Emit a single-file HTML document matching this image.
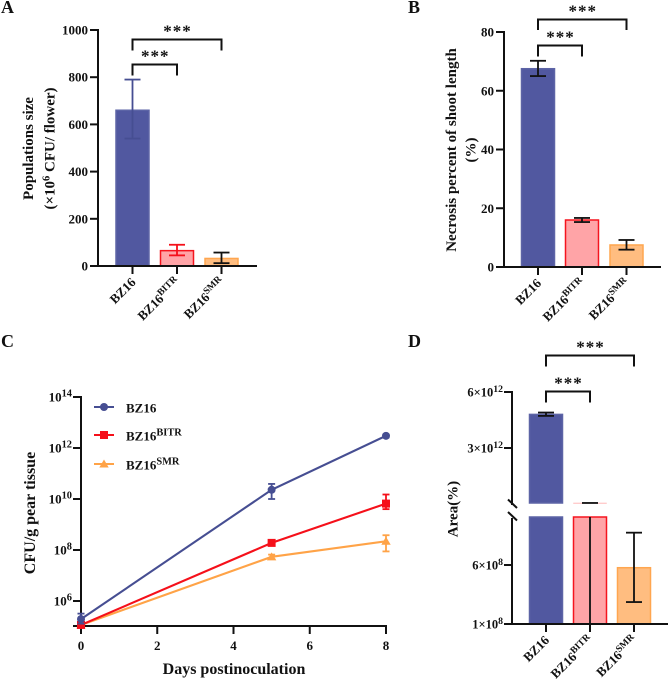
<!DOCTYPE html>
<html lang="en">
<head>
<meta charset="utf-8">
<title>Four-panel bacterial virulence chart</title>
<style>
html,body{margin:0;padding:0;background:#fff;}
svg{display:block;}
text{font-family:"Liberation Serif",serif;font-weight:bold;fill:#111;}
</style>
</head>
<body>
<svg id="figure" width="669" height="680" viewBox="0 0 669 680" xmlns="http://www.w3.org/2000/svg">
  <text x="1" y="13" font-size="18">A</text>
  <text x="408" y="13" font-size="18">B</text>
  <text x="1" y="347" font-size="18">C</text>
  <text x="408" y="347" font-size="18">D</text>

  <g font-size="15">
    <text transform="translate(33,148.5) rotate(-90)" text-anchor="middle">Populations size</text>
    <text transform="translate(54.5,148.5) rotate(-90)" text-anchor="middle">(×10<tspan font-size="10.5" dy="-5">6</tspan><tspan dy="5"> CFU/ flower)</tspan></text>
  </g>
  <g font-size="15">
    <text transform="translate(456,150) rotate(-90)" text-anchor="middle">Necrosis percent of shoot length</text>
    <text transform="translate(475.5,150) rotate(-90)" text-anchor="middle">(%)</text>
  </g>
  <text transform="translate(35,513) rotate(-90)" text-anchor="middle" font-size="16">CFU/g pear tissue</text>
  <text x="234" y="674" text-anchor="middle" font-size="16">Days postinoculation</text>
  <text transform="translate(457.5,509) rotate(-90)" text-anchor="middle" font-size="15">Area(%)</text>
</svg>

<script>
// Shared categories
const barCategories = ['BZ16', 'BZ16|BITR', 'BZ16|SMR'];

// Panel A
const aValues = [660, 65, 32];
const aLower = [540, 45, 12];
const aUpper = [790, 90, 57];
const aTicks = [0, 200, 400, 600, 800, 1000];

// Panel B
const bValues = [67.5, 16, 7.5];
const bLower = [65, 15.3, 5.9];
const bUpper = [70.2, 16.7, 9.2];
const bTicks = [0, 20, 40, 60, 80];

// Panel C
const cDays = [0, 5, 8];
const cSeriesNames = ['BZ16', 'BZ16|BITR', 'BZ16|SMR'];
const cBZ16 = [1.95e5, 2.3e10, 3e12];
const cBZ16Lower = [1.3e5, 1e10, 2.6e12];
const cBZ16Upper = [3.2e5, 3.9e10, 3.4e12];
const cBITR = [1.15e5, 1.9e8, 6.6e9];
const cBITRLower = [1e5, 1.5e8, 4e9];
const cBITRUpper = [1.3e5, 2.4e8, 1.5e10];
const cSMR = [1.15e5, 5.4e7, 2.2e8];
const cSMRLower = [1e5, 4.4e7, 8.8e7];
const cSMRUpper = [1.3e5, 6.6e7, 3.8e8];
const cYTicks = [6, 8, 10, 12, 14];
const cXTicks = [0, 2, 4, 6, 8];

// Panel D
const dValues = [4.8e12, 5e10, 5.77e8];
const dLower = [4.72e12, 1e8, 2.86e8];
const dUpper = [4.9e12, 5.5e10, 8.74e8];
const dUpperTicks = ['6×10|12', '3×10|12'];
const dUpperTickValues = [6e12, 3e12];
const dLowerTicks = ['6×10|8', '1×10|8'];
const dLowerTickValues = [6e8, 1e8];

const svg = document.getElementById('figure');
const NS = 'http://www.w3.org/2000/svg';
const INK = '#111';
const fills = ['#5158a0', '#ffa4a7', '#ffbd80'];
const edges = ['#5d64a6', '#f5141e', '#ffa64f'];
const seriesColors = ['#464e92', '#f5101a', '#ffa347'];

function make(tag, attrs, parent) {
  const el = document.createElementNS(NS, tag);
  Object.keys(attrs).forEach(function (k) { el.setAttribute(k, attrs[k]); });
  (parent || svg).appendChild(el);
  return el;
}
function seg(parent, x1, y1, x2, y2, color, w) {
  return make('line', { x1: x1, y1: y1, x2: x2, y2: y2, stroke: color || INK, 'stroke-width': w || 2 }, parent);
}
function group(name) {
  const g = make('g', {});
  
  
  return g;
}
function supLabel(parent, x, y, anchor, size, label, transform, supScale) {
  const parts = label.split('|');
  const attrs = { x: x, y: y, 'text-anchor': anchor, 'font-size': size };
  if (transform) attrs.transform = transform;
  const t = make('text', attrs, parent);
  t.appendChild(document.createTextNode(parts[0]));
  if (parts[1]) {
    const s = make('tspan', { 'font-size': size * (supScale || 0.74), dy: -size * 0.38 }, t);
    s.textContent = parts[1];
  }
  return t;
}
function linear(d0, d1, r0, r1) {
  return function (v) { return r0 + (v - d0) / (d1 - d0) * (r1 - r0); };
}
function logScale(d0, d1, r0, r1) {
  return function (v) { return r0 + (Math.log10(v) - d0) / (d1 - d0) * (r1 - r0); };
}
function drawBar(g, cx, top, bottom, i) {
  const bar = make('rect', { x: cx - 16.5, y: top, width: 33, height: bottom - top, fill: fills[i], stroke: edges[i], 'stroke-width': 1.5 }, g);
  
  
}
function drawError(g, cx, yLow, yHigh, color, cap) {
  const e = make('g', {}, g);
  
  
  seg(e, cx, yLow, cx, yHigh, color, 1.8);
  seg(e, cx - cap, yHigh, cx + cap, yHigh, color, 1.8);
  seg(e, cx - cap, yLow, cx + cap, yLow, color, 1.8);
}
function drawBracket(name, x1, x2, yTop, yEnd, starY) {
  const g = group(name);
  const p = make('polyline', { points: x1 + ',' + yEnd + ' ' + x1 + ',' + yTop + ' ' + x2 + ',' + yTop + ' ' + x2 + ',' + yEnd, fill: 'none', stroke: INK, 'stroke-width': 2 }, g);
  
  
  const t = make('text', { x: (x1 + x2) / 2 + 0.5, y: starY, 'text-anchor': 'middle', 'font-size': 17, 'letter-spacing': 1 }, g);
  t.textContent = '***';
  
  
}
function drawCategoryAxis(name, xs, yAxis, xStart, xEnd) {
  const g = group(name);
  seg(g, xStart, yAxis, xEnd, yAxis);
  xs.forEach(function (x, i) {
    seg(g, x, yAxis, x, yAxis + 8);
    const ax = x + 4;
    const ay = yAxis + 17;
    const t = supLabel(g, ax, ay, 'end', 13, barCategories[i], 'rotate(-45 ' + ax + ' ' + ay + ')');
    
    
  });
}

/* ---------- Panel A ---------- */
(function () {
  const y = linear(0, 1000, 266, 30);
  const xs = [132.5, 177, 221.5];
  const bars = group('panel-a-bars');
  aValues.forEach(function (v, i) { drawBar(bars, xs[i], y(v), y(0), i); });
  const errColors = ['#464e92', '#f5101a', INK];
  aValues.forEach(function (v, i) { drawError(bars, xs[i], y(aLower[i]), y(aUpper[i]), errColors[i], 8); });
  const ax = group('panel-a-y-axis');
  seg(ax, 98, 29, 98, 267);
  aTicks.forEach(function (v) {
    seg(ax, 90, y(v), 98, y(v));
    const t = make('text', { x: 88, y: y(v) + 4.5, 'text-anchor': 'end', 'font-size': 13 }, ax);
    t.textContent = v;
    
    
  });
  drawCategoryAxis('panel-a-x-axis', xs, 266, 90, 257);
  drawBracket('panel-a-bracket-smr', xs[0], xs[2], 39.5, 50.5, 36.5);
  drawBracket('panel-a-bracket-bitr', xs[0], xs[1], 64.5, 75.5, 61.5);
})();

/* ---------- Panel B ---------- */
(function () {
  const y = linear(0, 80, 267, 32);
  const xs = [538, 582, 626.5];
  const bars = group('panel-b-bars');
  bValues.forEach(function (v, i) { drawBar(bars, xs[i], y(v), y(0), i); });
  bValues.forEach(function (v, i) { drawError(bars, xs[i], y(bLower[i]), y(bUpper[i]), INK, 8); });
  const ax = group('panel-b-y-axis');
  seg(ax, 504, 31, 504, 268);
  bTicks.forEach(function (v) {
    seg(ax, 496, y(v), 504, y(v));
    const t = make('text', { x: 494, y: y(v) + 4.5, 'text-anchor': 'end', 'font-size': 13 }, ax);
    t.textContent = v;
    
    
  });
  drawCategoryAxis('panel-b-x-axis', xs, 267, 496, 661);
  drawBracket('panel-b-bracket-smr', xs[0], xs[2], 19.5, 30, 16.5);
  drawBracket('panel-b-bracket-bitr', xs[0], xs[1], 45.5, 56.5, 42.5);
})();

/* ---------- Panel C ---------- */
(function () {
  const x = linear(0, 8, 81, 386);
  const y = logScale(6, 14, 601, 397);
  const ax = group('panel-c-axes');
  seg(ax, 81, 396, 81, 627);
  seg(ax, 73, 626, 387, 626);
  cYTicks.forEach(function (p) {
    seg(ax, 73, y(Math.pow(10, p)), 81, y(Math.pow(10, p)));
    const t = supLabel(ax, 72, y(Math.pow(10, p)) + 4.5, 'end', 13, '10|' + p, null, 0.8);
    
    
  });
  cXTicks.forEach(function (d) {
    seg(ax, x(d), 626, x(d), 634);
    const t = make('text', { x: x(d), y: 650, 'text-anchor': 'middle', 'font-size': 13 }, ax);
    t.textContent = d;
    
    
  });

  function marker(g, shape, cx, cy, color) {
    if (shape === 0) return make('circle', { cx: cx, cy: cy, r: 4, fill: color }, g);
    if (shape === 1) return make('rect', { x: cx - 4, y: cy - 4, width: 8, height: 8, fill: color }, g);
    return make('polygon', { points: cx + ',' + (cy - 4.5) + ' ' + (cx + 4.7) + ',' + (cy + 3.5) + ' ' + (cx - 4.7) + ',' + (cy + 3.5), fill: color }, g);
  }
  function drawSeries(name, values, lower, upper, color, shape) {
    const g = group(name);
    const pts = values.map(function (v, i) { return x(cDays[i]) + ',' + y(v); }).join(' ');
    const line = make('polyline', { points: pts, fill: 'none', stroke: color, 'stroke-width': 2.1 }, g);
    
    
    values.forEach(function (v, i) {
      drawError(g, x(cDays[i]), y(lower[i]), y(upper[i]), color, 3.5);
      const m = marker(g, shape, x(cDays[i]), y(v), color);
      
      
    });
  }
  drawSeries('series-bz16-smr', cSMR, cSMRLower, cSMRUpper, seriesColors[2], 2);
  drawSeries('series-bz16-bitr', cBITR, cBITRLower, cBITRUpper, seriesColors[1], 1);
  drawSeries('series-bz16', cBZ16, cBZ16Lower, cBZ16Upper, seriesColors[0], 0);

  const legendY = [407, 435, 464];
  cSeriesNames.forEach(function (n, i) {
    const g = group('legend-entry');
    seg(g, 94, legendY[i], 114, legendY[i], seriesColors[i], 2.1);
    const m = marker(g, i, 104, legendY[i], seriesColors[i]);
    
    
    const t = supLabel(g, 126, legendY[i] + 5.5, 'start', 13, n, null, 0.8);
    
    
  });
})();

/* ---------- Panel D ---------- */
(function () {
  const yUp = linear(3e12, 6e12, 448, 392);
  const yLow = linear(1e8, 6e8, 624, 565);
  const breakTop = 503;
  const breakBottom = 517;
  const xs = [546, 590, 634];
  const clipLow = 1e9;

  const bars = group('panel-d-bars');
  dValues.forEach(function (v, i) {
    if (v > clipLow) {
      drawBar(bars, xs[i], breakBottom, yLow(1e8), i);
      const top = Math.min(yUp(v), breakTop);
      const seg2 = make('rect', { x: xs[i] - 16.5, y: top, width: 33, height: Math.max(breakTop - top, 0.4), fill: fills[i], stroke: i === 1 ? '#ffb0b0' : edges[i], 'stroke-width': i === 1 ? 0.5 : 1.5 }, bars);
      
      
    } else {
      drawBar(bars, xs[i], yLow(v), yLow(1e8), i);
    }
  });
  // BZ16 whiskers in the upper segment
  drawError(bars, xs[0], yUp(dLower[0]), yUp(dUpper[0]), INK, 8);
  // BZ16 BITR upper cap sits on the break, the stem runs on through the lower segment
  const stem = seg(bars, xs[1], breakBottom, xs[1], yLow(dLower[1]), INK, 1.8);
  
  
  const cap = seg(bars, xs[1] - 8, yUp(dUpper[1]), xs[1] + 8, yUp(dUpper[1]), INK, 1.8);
  
  
  drawError(bars, xs[2], yLow(dLower[2]), yLow(dUpper[2]), INK, 8);

  const ax = group('panel-d-y-axis');
  seg(ax, 512, 391, 512, 505);
  seg(ax, 512, 518, 512, 625);
  seg(ax, 508, 499.5, 517, 508);
  seg(ax, 508, 512, 517, 520.5);
  dUpperTicks.forEach(function (l, i) {
    const py = yUp(dUpperTickValues[i]);
    seg(ax, 504, py, 512, py);
    const t = supLabel(ax, 503, py + 4.5, 'end', 12.5, l, null, 0.78);
    
    
  });
  dLowerTicks.forEach(function (l, i) {
    const py = yLow(dLowerTickValues[i]);
    seg(ax, 504, py, 512, py);
    const t = supLabel(ax, 503, py + 4.5, 'end', 12.5, l, null, 0.78);
    
    
  });
  drawCategoryAxis('panel-d-x-axis', xs, 624, 504, 668);
  drawBracket('panel-d-bracket-smr', xs[0], xs[2], 355.5, 366.5, 352.5);
  drawBracket('panel-d-bracket-bitr', xs[0], xs[1], 391.5, 402.5, 388.5);
})();
</script>
</body>
</html>
